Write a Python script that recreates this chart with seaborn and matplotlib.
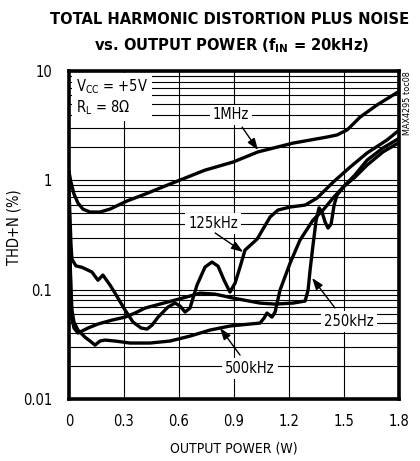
import numpy as np
import pandas as pd
import matplotlib
matplotlib.use("Agg")
import matplotlib.pyplot as plt
from matplotlib.ticker import LogLocator, NullFormatter
import seaborn as sns

# THD+N (%) against output power (W), one trace per switching frequency
power_1mhz = [0, 0.011, 0.027, 0.049, 0.076, 0.115, 0.169, 0.224, 0.316, 0.415,
              0.551, 0.742, 0.895, 1.031, 1.222, 1.408, 1.462, 1.517, 1.588,
              1.68, 1.795]
thdn_1mhz = [1.19, 0.96, 0.75, 0.62, 0.545, 0.513, 0.513, 0.546, 0.647, 0.748,
             0.925, 1.24, 1.47, 1.82, 2.19, 2.49, 2.6, 2.89, 3.79, 4.89, 6.43]

power_125k = [0, 0.005, 0.011, 0.016, 0.038, 0.071, 0.125, 0.158, 0.185, 0.224,
              0.251, 0.306, 0.349, 0.393, 0.426, 0.453, 0.486, 0.54, 0.578,
              0.606, 0.633, 0.66, 0.698, 0.742, 0.78, 0.813, 0.846, 0.878,
              0.906, 0.933, 0.96, 1.026, 1.097, 1.14, 1.206, 1.288, 1.353,
              1.44, 1.533, 1.626, 1.735, 1.795]
thdn_125k = [0.85, 0.48, 0.256, 0.19, 0.165, 0.16, 0.145, 0.122, 0.136, 0.11,
             0.093, 0.065, 0.0506, 0.0446, 0.0436, 0.0474, 0.0561, 0.0693,
             0.0754, 0.0708, 0.0624, 0.0679, 0.11, 0.161, 0.179, 0.164, 0.122,
             0.095, 0.115, 0.161, 0.23, 0.29, 0.462, 0.535, 0.57, 0.594, 0.688,
             0.96, 1.32, 1.78, 2.34, 2.83]

power_250k = [0, 0.005, 0.011, 0.016, 0.027, 0.049, 0.104, 0.158, 0.235, 0.306,
              0.36, 0.415, 0.496, 0.578, 0.66, 0.715, 0.797, 0.895, 1.042,
              1.124, 1.222, 1.288, 1.304, 1.315, 1.331, 1.348, 1.364, 1.38,
              1.397, 1.413, 1.43, 1.446, 1.462, 1.506, 1.56, 1.626, 1.713, 1.795]
thdn_250k = [0.66, 0.187, 0.08, 0.055, 0.0446, 0.0401, 0.0446, 0.0485, 0.0527,
             0.0561, 0.0611, 0.0679, 0.0738, 0.0803, 0.0874, 0.093, 0.091,
             0.0838, 0.0754, 0.0738, 0.0754, 0.0787, 0.099, 0.151, 0.256,
             0.433, 0.56, 0.513, 0.415, 0.366, 0.40, 0.594, 0.733, 0.905, 1.12,
             1.53, 1.98, 2.39]

power_500k = [0, 0.005, 0.011, 0.016, 0.027, 0.049, 0.087, 0.115, 0.142, 0.169,
              0.196, 0.251, 0.333, 0.442, 0.551, 0.66, 0.769, 0.878, 0.987,
              1.042, 1.064, 1.08, 1.107, 1.124, 1.151, 1.206, 1.26, 1.331,
              1.386, 1.44, 1.495, 1.56, 1.626, 1.713, 1.795]
thdn_500k = [0.594, 0.21, 0.099, 0.065, 0.0506, 0.0427, 0.0368, 0.0339, 0.0311,
             0.0339, 0.0346, 0.0339, 0.0325, 0.0325, 0.0339, 0.0376, 0.0427,
             0.0465, 0.0485, 0.0495, 0.055, 0.0611, 0.0561, 0.0624, 0.099,
             0.175, 0.284, 0.433, 0.535, 0.688, 0.868, 1.07, 1.38, 1.82, 2.19]

freq_names = ["1MHz", "125kHz", "250kHz", "500kHz"]
x_ticks = [0, 0.3, 0.6, 0.9, 1.2, 1.5, 1.8]
x_tick_labels = ["0", "0.3", "0.6", "0.9", "1.2", "1.5", "1.8"]
y_ticks = [0.01, 0.1, 1, 10]
y_tick_labels = ["0.01", "0.1", "1", "10"]

series = {
    "1MHz": (power_1mhz, thdn_1mhz),
    "125kHz": (power_125k, thdn_125k),
    "250kHz": (power_250k, thdn_250k),
    "500kHz": (power_500k, thdn_500k),
}
df = pd.concat(
    [pd.DataFrame({"power": p, "thdn": t, "freq": name})
     for name, (p, t) in series.items()],
    ignore_index=True,
)

sns.set_style("white")
plt.rcParams["font.family"] = ["DejaVu Sans"]
plt.rcParams["font.stretch"] = "condensed"
for key in ("text.color", "axes.labelcolor", "xtick.color", "ytick.color"):
    plt.rcParams[key] = "black"

fig = plt.figure(figsize=(4.2, 4.61), dpi=100)
ax = fig.add_axes([69 / 420, 62 / 461, 330 / 420, 328 / 461])

sns.lineplot(data=df, x="power", y="thdn", hue="freq", hue_order=freq_names,
             palette=["black"] * 4, estimator=None, sort=False, legend=False,
             linewidth=2.4, solid_joinstyle="round", solid_capstyle="round",
             ax=ax, zorder=4)

ax.set_yscale("log")
ax.set_xlim(0, 1.8)
ax.set_ylim(0.01, 10)
ax.set_xticks(x_ticks)
ax.set_xticklabels(x_tick_labels)
ax.set_yticks(y_ticks)
ax.set_yticklabels(y_tick_labels)
ax.yaxis.set_minor_locator(LogLocator(base=10, subs=np.arange(2, 10)))
ax.yaxis.set_minor_formatter(NullFormatter())

ax.grid(which="both", axis="y", color="black", linewidth=0.8)
ax.grid(which="major", axis="x", color="black", linewidth=0.8)
ax.set_axisbelow(True)

ax.tick_params(which="both", length=0)
ax.tick_params(axis="y", pad=12, labelsize=10.5)
ax.tick_params(axis="x", pad=11, labelsize=10.5)
for s in ax.spines.values():
    s.set_visible(True)
    s.set_color("black")
    s.set_linewidth(2.6)

ax.set_xlabel("OUTPUT POWER (W)", fontsize=10)
ax.set_ylabel("THD+N (%)", fontsize=10.5)
ax.xaxis.set_label_coords(0.5, -0.13)
ax.yaxis.set_label_coords(-0.145, 0.524)

box = dict(boxstyle="square,pad=0.2", fc="white", ec="none")
arrow = dict(arrowstyle="-|>,head_length=0.7,head_width=0.25", color="black",
             lw=1.0, shrinkA=0, shrinkB=0)

# curve labels with pointer arrows
labels = [
    ("1MHz", (0.884, 3.96), (0.944, 3.07), (1.031, 1.89)),
    ("125kHz", (0.786, 0.406), (0.797, 0.33), (0.95, 0.221)),
    ("250kHz", (1.528, 0.0515), (1.451, 0.068), (1.326, 0.128)),
    ("500kHz", (0.987, 0.0191), (0.933, 0.0252), (0.824, 0.0446)),
]
for text, pos, tail, tip in labels:
    ax.text(pos[0], pos[1], text, fontsize=10.5, ha="center", va="center",
            bbox=box, zorder=3)
    ax.annotate("", xy=tip, xytext=tail, arrowprops=arrow, zorder=5)

ax.text(0.038, 5.77, "V$_{\\mathregular{CC}}$ = +5V\nR$_{\\mathregular{L}}$ = 8Ω",
        fontsize=10.5, ha="left", va="center", linespacing=1.15,
        bbox=dict(boxstyle="square,pad=0.3", fc="white", ec="none"), zorder=3)

fig.text(230 / 420, 1 - 20 / 461, "TOTAL HARMONIC DISTORTION PLUS NOISE",
         fontsize=11.8, fontweight="bold", ha="center", va="center")
fig.text(232 / 420, 1 - 46 / 461, "vs. OUTPUT POWER (f$_{\\mathregular{IN}}$ = 20kHz)",
         fontsize=11.8, fontweight="bold", ha="center", va="center")
fig.text(407 / 420, 1 - 103 / 461, "MAX4295 toc08", fontsize=6.5, rotation=90,
         ha="center", va="center")

fig.savefig("out.png", dpi=100)
